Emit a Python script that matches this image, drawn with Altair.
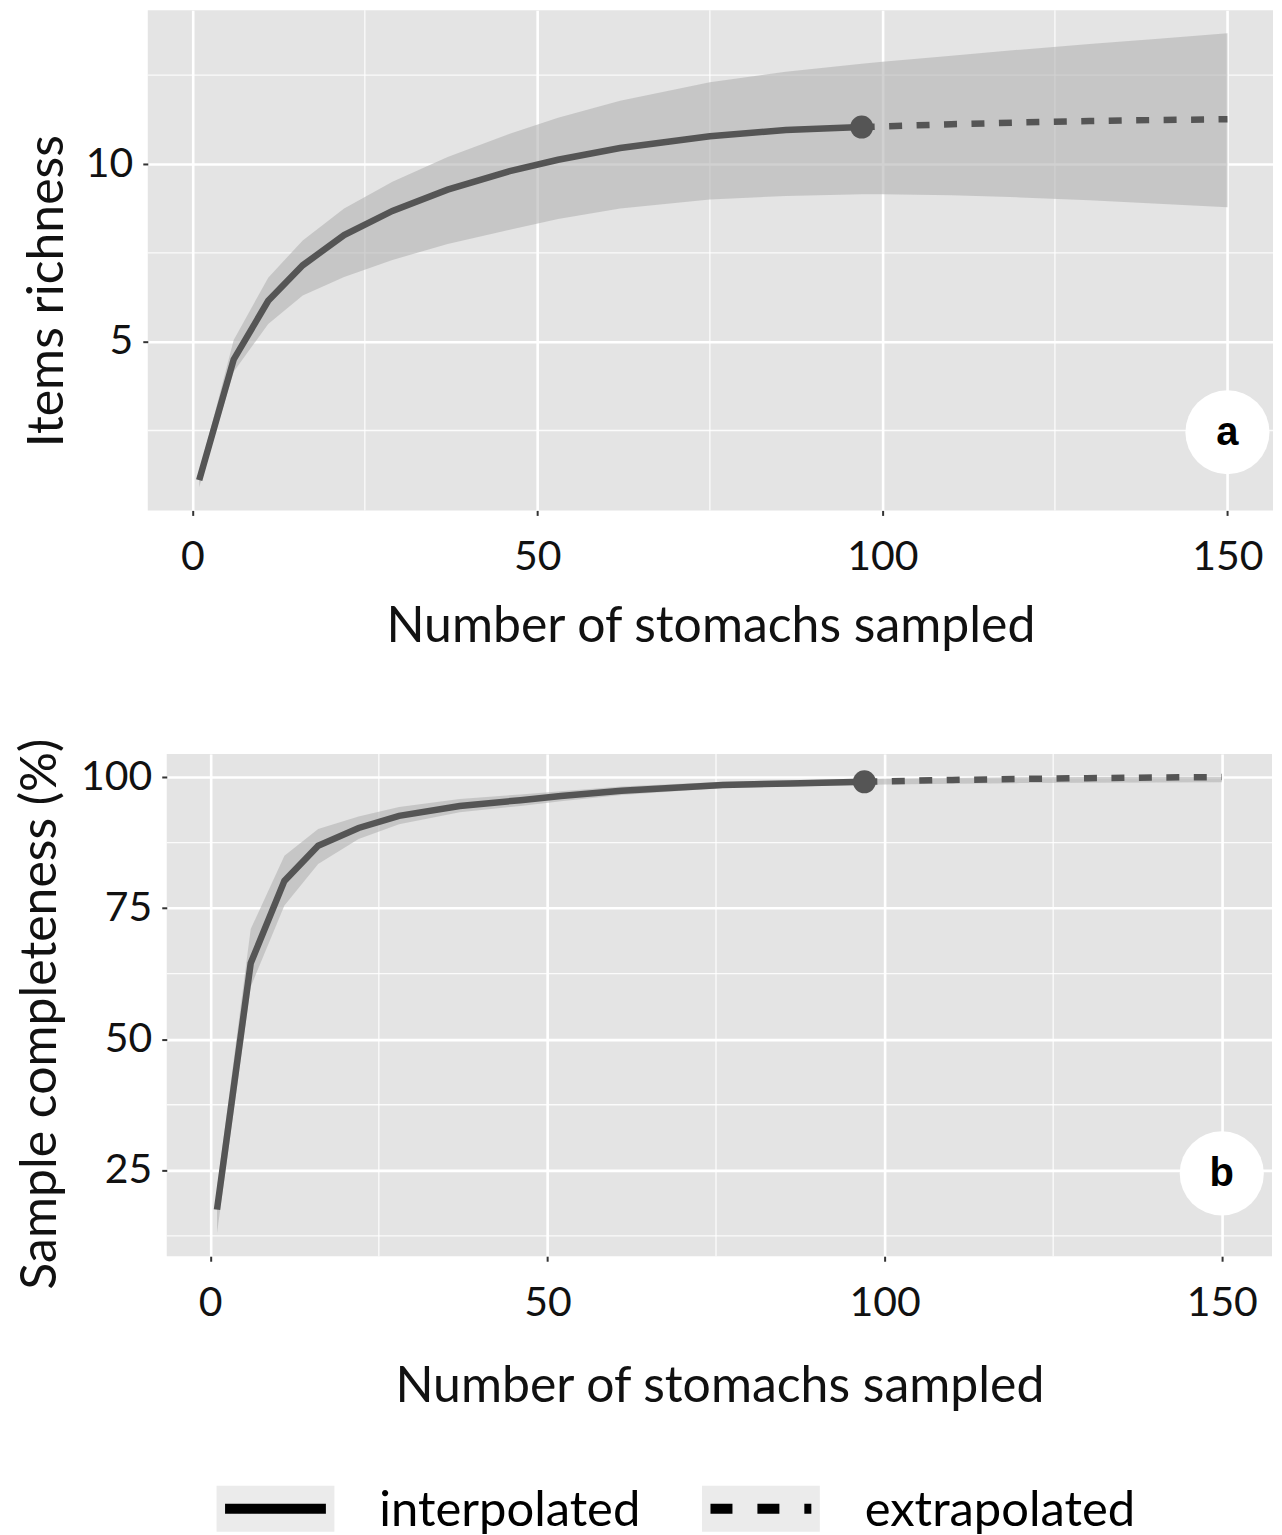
import altair as alt
import pandas as pd

FONT = "Lato"

# ---------------- data ----------------
# panel a: items richness
rich_interp_x = [1, 6, 11, 16, 22, 29, 37, 46, 53, 62, 75, 86, 97]
rich_interp_y = [1.1, 4.5, 6.15, 7.15, 8.0, 8.68, 9.28, 9.8, 10.12, 10.45, 10.78, 10.96, 11.04]
rich_interp_lo = [0.9, 4.15, 5.5, 6.3, 6.82, 7.3, 7.75, 8.15, 8.45, 8.75, 9.0, 9.1, 9.15]
rich_interp_hi = [1.3, 5.05, 6.8, 7.85, 8.75, 9.5, 10.2, 10.85, 11.3, 11.78, 12.3, 12.6, 12.82]
rich_extrap_x = [97, 100, 110, 120, 130, 140, 150]
rich_extrap_y = [11.04, 11.06, 11.12, 11.17, 11.21, 11.24, 11.26]
rich_extrap_lo = [9.15, 9.15, 9.12, 9.06, 8.98, 8.88, 8.78]
rich_extrap_hi = [12.82, 12.88, 13.05, 13.22, 13.38, 13.53, 13.68]

# panel b: sample completeness (%)
comp_interp_x = [1, 6, 11, 16, 22, 28, 37, 46, 52, 61, 76, 86, 97]
comp_interp_y = [17.5, 64.5, 80.2, 86.9, 90.3, 92.6, 94.5, 95.6, 96.4, 97.4, 98.5, 98.8, 99.1]
comp_interp_lo = [13.0, 60.0, 75.5, 83.4, 88.2, 91.0, 93.3, 94.5, 95.4, 96.6, 97.9, 98.2, 98.5]
comp_interp_hi = [21.5, 71.0, 85.0, 90.1, 92.5, 94.3, 95.8, 96.7, 97.3, 98.2, 99.1, 99.4, 99.6]
comp_extrap_x = [97, 100, 110, 120, 130, 140, 150]
comp_extrap_y = [99.1, 99.2, 99.45, 99.65, 99.8, 99.92, 100.0]
comp_extrap_lo = [98.5, 98.6, 98.75, 98.85, 98.9, 98.95, 99.0]
comp_extrap_hi = [99.6, 99.7, 99.85, 99.95, 100.0, 100.05, 100.05]

x_ticks = [0, 50, 100, 150]
x_minor = [25, 75, 125]
rich_ticks = [5, 10]
rich_minor = [2.5, 7.5, 12.5]
comp_ticks = [25, 50, 75, 100]
comp_minor = [12.5, 37.5, 62.5, 87.5]

x_title = "Number of stomachs sampled"
rich_title = "Items richness"
comp_title = "Sample completeness (%)"

methods = ["interpolated", "extrapolated"]
panel_labels = ["a", "b"]
label_x = 150
rich_label_y = 2.45
comp_label_y = 24.4

LINE = "#555555"
PANEL = "#e4e4e4"
TXT = "#111111"


def make_panel(ix, iy, ilo, ihi, ex, ey, elo, ehi, xdom, ydom, yticks, yminor,
               ytitle, label, label_y, w, h, ytitle_x, ytitle_y, xlab_pad, xtitle_y):
    band = pd.DataFrame({"x": ix + ex[1:], "lo": ilo + elo[1:], "hi": ihi + ehi[1:]})
    interp = pd.DataFrame({"x": ix, "y": iy})
    extrap = pd.DataFrame({"x": ex, "y": ey})
    ref = pd.DataFrame({"x": [ix[-1]], "y": [iy[-1]]})
    lab = pd.DataFrame({"x": [label_x], "y": [label_y], "t": [label]})
    xm = pd.DataFrame({"v": x_minor})
    ym = pd.DataFrame({"v": yminor})

    xs = alt.Scale(domain=xdom, nice=False, zero=False)
    ys = alt.Scale(domain=ydom, nice=False, zero=False)
    xaxis = alt.Axis(values=x_ticks, grid=True, gridColor="white", gridWidth=2.6,
                     domain=False, tickColor="#333333", tickSize=5, tickWidth=2,
                     labelFont=FONT, labelFontSize=41, labelColor=TXT,
                     labelBaseline="alphabetic", labelPadding=xlab_pad,
                     title=x_title, titleFont=FONT, titleFontSize=50,
                     titleFontWeight="normal", titleColor=TXT,
                     titleBaseline="alphabetic", titleY=xtitle_y)
    yaxis = alt.Axis(values=yticks, grid=True, gridColor="white", gridWidth=2.6,
                     domain=False, tickColor="#333333", tickSize=5, tickWidth=2,
                     labelFont=FONT, labelFontSize=41, labelColor=TXT, labelPadding=10,
                     title=ytitle, titleFont=FONT, titleFontSize=50,
                     titleFontWeight="normal", titleColor=TXT,
                     titleBaseline="alphabetic", titleX=ytitle_x, titleY=ytitle_y)

    enc = dict(x=alt.X("x:Q", scale=xs, axis=xaxis), y=alt.Y("y:Q", scale=ys, axis=yaxis))
    vgrid = alt.Chart(xm).mark_rule(color="white", strokeWidth=1.3, opacity=0.85).encode(
        x=alt.X("v:Q", scale=xs, axis=xaxis))
    hgrid = alt.Chart(ym).mark_rule(color="white", strokeWidth=1.3, opacity=0.85).encode(
        y=alt.Y("v:Q", scale=ys, axis=yaxis))
    area = alt.Chart(band).mark_area(color="#b2b2b2", opacity=0.6).encode(
        x=alt.X("x:Q", scale=xs, axis=xaxis),
        y=alt.Y("lo:Q", scale=ys, axis=yaxis),
        y2="hi:Q")
    l1 = alt.Chart(interp).mark_line(color=LINE, strokeWidth=6.5).encode(**enc)
    l2 = alt.Chart(extrap).mark_line(color=LINE, strokeWidth=6.5, strokeDash=[13, 14.5]).encode(**enc)
    pt = alt.Chart(ref).mark_point(filled=True, color=LINE, size=530, opacity=1).encode(**enc)
    circ = alt.Chart(lab).mark_point(filled=True, color="white", size=7100, opacity=1).encode(**enc)
    txt = alt.Chart(lab).mark_text(font="Liberation Sans", fontWeight="bold", fontSize=40,
                                   color="black", baseline="middle", dy=1).encode(text="t:N", **enc)
    return alt.layer(vgrid, hgrid, area, l1, l2, pt, circ, txt).properties(
        width=w, height=h, view=alt.ViewBackground(fill=PANEL, stroke=None))


top = make_panel(rich_interp_x, rich_interp_y, rich_interp_lo, rich_interp_hi,
                 rich_extrap_x, rich_extrap_y, rich_extrap_lo, rich_extrap_hi,
                 [-6.45, 156.6], [0.25, 14.33], rich_ticks, rich_minor,
                 rich_title, panel_labels[0], rich_label_y, 1127, 501,
                 ytitle_x=-85, ytitle_y=281, xlab_pad=54, xtitle_y=131)
bottom = make_panel(comp_interp_x, comp_interp_y, comp_interp_lo, comp_interp_hi,
                    comp_extrap_x, comp_extrap_y, comp_extrap_lo, comp_extrap_hi,
                    [-6.45, 157.45], [8.6, 104.4], comp_ticks, comp_minor,
                    comp_title, panel_labels[1], comp_label_y, 1107, 503,
                    ytitle_x=-111, ytitle_y=260, xlab_pad=54, xtitle_y=145)

# tiny invisible spacer used to shift each panel horizontally
spacer = alt.Chart(pd.DataFrame({"v": [0]})).mark_point(opacity=0, size=1).properties(
    width=1, height=1, view=alt.ViewBackground(fill=None, stroke=None))

top_cell = alt.hconcat(spacer, top, spacing=13)
bottom_cell = alt.hconcat(spacer, bottom, spacing=6)

# ---------------- legend ----------------
leg = pd.DataFrame({"method": methods})
lx = alt.X("method:N", scale=alt.Scale(type="point", domain=methods, padding=0.551), axis=None)
key_bg = alt.Chart(leg).mark_point(shape="M-1,-0.39H1V0.39H-1Z", filled=True,
                                   color="#ebebeb", size=118 * 118, opacity=1).encode(x=lx)
key_line = alt.Chart(leg).mark_point(shape="M-1,0H1", filled=False, color="black",
                                     strokeWidth=10, size=101 * 101, opacity=1).encode(
    x=lx,
    strokeDash=alt.StrokeDash("method:N", scale=alt.Scale(domain=methods, range=[[1, 0], [22, 25]]),
                              legend=None))
key_txt = alt.Chart(leg).mark_text(align="left", baseline="middle", dx=104, dy=2, font=FONT,
                                   fontSize=49, color="black").encode(x=lx, text="method:N")
legend = alt.layer(key_bg, key_line, key_txt).properties(
    width=1022, height=46, view=alt.ViewBackground(fill=None, stroke=None))

chart = alt.vconcat(alt.vconcat(top_cell, bottom_cell, spacing=86), legend, spacing=74).properties(
    padding={"left": 0, "top": 0, "right": 0, "bottom": 0}
).configure_view(stroke=None)

chart.save("out.html", embed_options={"renderer": "svg", "actions": False})
